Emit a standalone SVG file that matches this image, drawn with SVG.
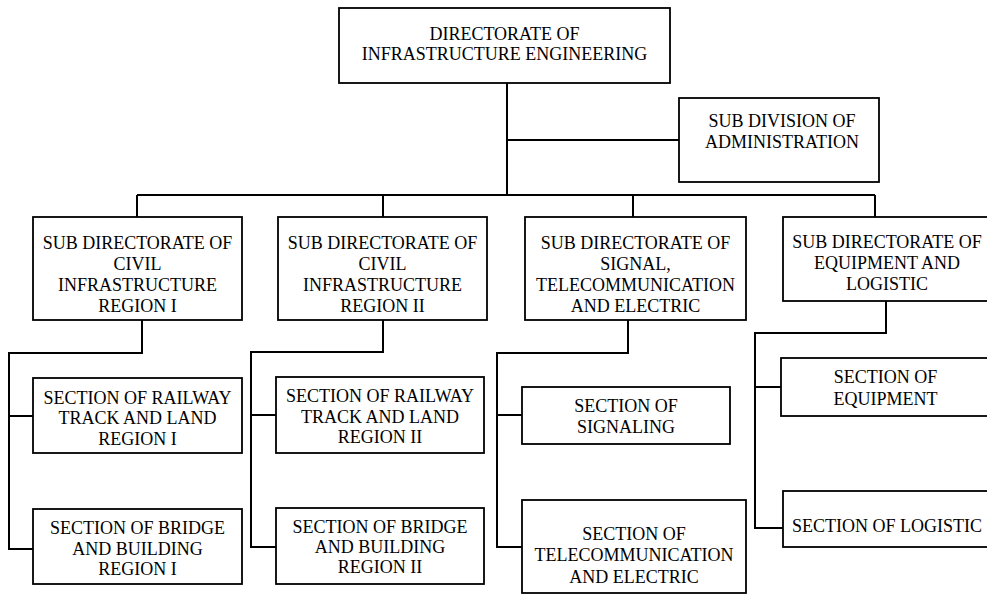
<svg xmlns="http://www.w3.org/2000/svg" width="987" height="594" viewBox="0 0 987 594">
  <style>
    .box { fill: #fff; stroke: #000; stroke-width: 1.8; }
    .conn { fill: none; stroke: #000; stroke-width: 2; }
    .lbl { font-family: 'Liberation Serif', 'Times New Roman', Tinos, 'DejaVu Serif', serif; font-size: 18px; fill: #000; text-anchor: middle; }
  </style>
  <rect width="987" height="594" fill="#fff"/>

  <!-- connectors -->
  <g id="connectors" class="conn">
    <path d="M507 83 V195"/>
    <path d="M507 140 H679"/>
    <path d="M137 195 H875"/>
    <path d="M137 195 V217 M383 195 V217 M633 195 V217 M875 195 V217"/>
    <!-- region I -->
    <path d="M142 320 V353 H9 V549 H33 M9 416 H33"/>
    <!-- region II -->
    <path d="M383 320 V352 H251 V547 H276 M251 415 H276"/>
    <!-- signal, telecommunication and electric -->
    <path d="M628 320 V353 H497 V547 H522 M497 415 H522"/>
    <!-- equipment and logistic -->
    <path d="M886 301 V333 H755 V528 H783 M755 387 H781"/>
  </g>

  <g class="lbl" font-family="Liberation Serif, Times New Roman, serif">
  <g id="directorate">
    <rect class="box" x="339" y="8" width="331" height="75"/>
    <text x="504.5" y="40">DIRECTORATE OF</text>
    <text x="504.5" y="60">INFRASTRUCTURE ENGINEERING</text>
  </g>

  <g id="administration">
    <rect class="box" x="679" y="98" width="200" height="84"/>
    <text x="782" y="127">SUB DIVISION OF</text>
    <text x="782" y="148">ADMINISTRATION</text>
  </g>

  <g id="civil-region-1">
    <rect class="box" x="33" y="217" width="209" height="103"/>
    <text x="137.5" y="249">SUB DIRECTORATE OF</text>
    <text x="137.5" y="270">CIVIL</text>
    <text x="137.5" y="291">INFRASTRUCTURE</text>
    <text x="137.5" y="312">REGION I</text>
  </g>

  <g id="civil-region-2">
    <rect class="box" x="278" y="217" width="209" height="103"/>
    <text x="382.5" y="249">SUB DIRECTORATE OF</text>
    <text x="382.5" y="270">CIVIL</text>
    <text x="382.5" y="291">INFRASTRUCTURE</text>
    <text x="382.5" y="312">REGION II</text>
  </g>

  <g id="signal-telecom-electric">
    <rect class="box" x="525" y="217" width="221" height="103"/>
    <text x="635.5" y="249">SUB DIRECTORATE OF</text>
    <text x="635.5" y="270">SIGNAL,</text>
    <text x="635.5" y="291">TELECOMMUNICATION</text>
    <text x="635.5" y="312">AND ELECTRIC</text>
  </g>

  <g id="equipment-logistic">
    <rect class="box" x="783" y="217" width="215" height="84"/>
    <text x="887" y="248">SUB DIRECTORATE OF</text>
    <text x="887" y="269">EQUIPMENT AND</text>
    <text x="887" y="290">LOGISTIC</text>
  </g>

  <g id="railway-region-1">
    <rect class="box" x="33" y="378" width="209" height="75"/>
    <text x="137.5" y="404">SECTION OF RAILWAY</text>
    <text x="137.5" y="424">TRACK AND LAND</text>
    <text x="137.5" y="445">REGION I</text>
  </g>

  <g id="bridge-region-1">
    <rect class="box" x="33" y="509" width="209" height="75"/>
    <text x="137.5" y="534">SECTION OF BRIDGE</text>
    <text x="137.5" y="555">AND BUILDING</text>
    <text x="137.5" y="575">REGION I</text>
  </g>

  <g id="railway-region-2">
    <rect class="box" x="276" y="377" width="208" height="76"/>
    <text x="380" y="402">SECTION OF RAILWAY</text>
    <text x="380" y="423">TRACK AND LAND</text>
    <text x="380" y="443">REGION II</text>
  </g>

  <g id="bridge-region-2">
    <rect class="box" x="276" y="508" width="208" height="76"/>
    <text x="380" y="533">SECTION OF BRIDGE</text>
    <text x="380" y="553">AND BUILDING</text>
    <text x="380" y="573">REGION II</text>
  </g>

  <g id="signaling">
    <rect class="box" x="522" y="387" width="208" height="57"/>
    <text x="626" y="412">SECTION OF</text>
    <text x="626" y="433">SIGNALING</text>
  </g>

  <g id="telecom-electric">
    <rect class="box" x="522" y="500" width="224" height="93"/>
    <text x="634" y="540">SECTION OF</text>
    <text x="634" y="561">TELECOMMUNICATION</text>
    <text x="634" y="583">AND ELECTRIC</text>
  </g>

  <g id="equipment">
    <rect class="box" x="781" y="358" width="220" height="58"/>
    <text x="885.5" y="383">SECTION OF</text>
    <text x="885.5" y="405">EQUIPMENT</text>
  </g>

  <g id="logistic">
    <rect class="box" x="783" y="491" width="220" height="56"/>
    <text x="887" y="532">SECTION OF LOGISTIC</text>
  </g>
  </g>
</svg>
